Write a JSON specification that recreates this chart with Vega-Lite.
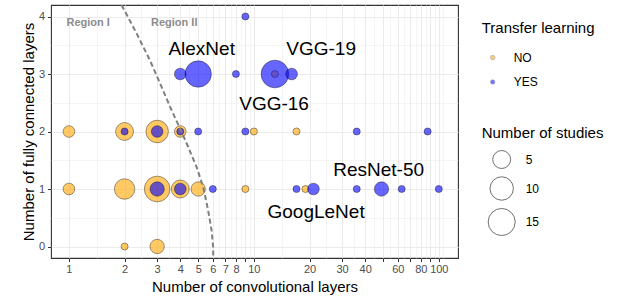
{
  "$schema": "https://vega.github.io/schema/vega-lite/v6.json",
  "width": 407,
  "height": 253,
  "autosize": {"type": "none"},
  "padding": {"left": 51, "top": 5, "right": 165, "bottom": 43},
  "background": "white",
  "config": {
    "font": "Liberation Sans",
    "view": {"stroke": "#333333", "strokeWidth": 1.1},
    "axis": {
      "labelFont": "Liberation Sans",
      "labelFontSize": 11,
      "labelColor": "#4D4D4D",
      "titleFont": "Liberation Sans",
      "titleFontSize": 15,
      "titleFontWeight": "normal",
      "titleColor": "#000000",
      "gridColor": "#EBEBEB",
      "tickColor": "#333333",
      "tickSize": 3.5,
      "domain": false
    },
    "legend": {
      "titleFont": "Liberation Sans",
      "labelFont": "Liberation Sans",
      "titleFontSize": 15,
      "titleFontWeight": "normal",
      "titleColor": "#000000",
      "labelFontSize": 12,
      "labelColor": "#000000"
    }
  },
  "datasets": {
    "points": [
      {"conv": 1, "fc": 1, "tl": "NO", "n": 2},
      {"conv": 2, "fc": 1, "tl": "NO", "n": 7},
      {"conv": 3, "fc": 1, "tl": "NO", "n": 13},
      {"conv": 4, "fc": 1, "tl": "NO", "n": 5},
      {"conv": 5, "fc": 1, "tl": "NO", "n": 3},
      {"conv": 9, "fc": 1, "tl": "NO", "n": 1},
      {"conv": 19, "fc": 1, "tl": "NO", "n": 1},
      {"conv": 1, "fc": 2, "tl": "NO", "n": 2},
      {"conv": 2, "fc": 2, "tl": "NO", "n": 5},
      {"conv": 3, "fc": 2, "tl": "NO", "n": 9},
      {"conv": 4, "fc": 2, "tl": "NO", "n": 2},
      {"conv": 10, "fc": 2, "tl": "NO", "n": 1},
      {"conv": 17, "fc": 2, "tl": "NO", "n": 1},
      {"conv": 13, "fc": 3, "tl": "NO", "n": 1},
      {"conv": 2, "fc": 0, "tl": "NO", "n": 1},
      {"conv": 3, "fc": 0, "tl": "NO", "n": 3},
      {"conv": 3, "fc": 1, "tl": "YES", "n": 3},
      {"conv": 4, "fc": 1, "tl": "YES", "n": 2},
      {"conv": 6, "fc": 1, "tl": "YES", "n": 1},
      {"conv": 17, "fc": 1, "tl": "YES", "n": 1},
      {"conv": 21, "fc": 1, "tl": "YES", "n": 2},
      {"conv": 36, "fc": 1, "tl": "YES", "n": 1},
      {"conv": 49, "fc": 1, "tl": "YES", "n": 3},
      {"conv": 63, "fc": 1, "tl": "YES", "n": 1},
      {"conv": 100, "fc": 1, "tl": "YES", "n": 1},
      {"conv": 2, "fc": 2, "tl": "YES", "n": 1},
      {"conv": 3, "fc": 2, "tl": "YES", "n": 2},
      {"conv": 4, "fc": 2, "tl": "YES", "n": 1},
      {"conv": 5, "fc": 2, "tl": "YES", "n": 1},
      {"conv": 9, "fc": 2, "tl": "YES", "n": 1},
      {"conv": 36, "fc": 2, "tl": "YES", "n": 1},
      {"conv": 87, "fc": 2, "tl": "YES", "n": 1},
      {"conv": 4, "fc": 3, "tl": "YES", "n": 2},
      {"conv": 5, "fc": 3, "tl": "YES", "n": 14},
      {"conv": 8, "fc": 3, "tl": "YES", "n": 1},
      {"conv": 13, "fc": 3, "tl": "YES", "n": 16},
      {"conv": 16, "fc": 3, "tl": "YES", "n": 2},
      {"conv": 9, "fc": 4, "tl": "YES", "n": 1}
    ],
    "curve": [
      {"conv": 1.927, "fc": 4.2},
      {"conv": 2.322, "fc": 3.706},
      {"conv": 2.741, "fc": 3.24},
      {"conv": 3.17, "fc": 2.775},
      {"conv": 3.591, "fc": 2.369},
      {"conv": 4.031, "fc": 2.021},
      {"conv": 4.415, "fc": 1.73},
      {"conv": 4.901, "fc": 1.382},
      {"conv": 5.321, "fc": 1.033},
      {"conv": 5.662, "fc": 0.627},
      {"conv": 5.907, "fc": 0.279},
      {"conv": 6.026, "fc": -0.012},
      {"conv": 6.03, "fc": -0.21}
    ],
    "names": [
      {"conv": 5.22, "fc": 3.327, "label": "AlexNet"},
      {"conv": 23.1, "fc": 3.327, "label": "VGG-19"},
      {"conv": 12.86, "fc": 2.369, "label": "VGG-16"},
      {"conv": 47.3, "fc": 1.225, "label": "ResNet-50"},
      {"conv": 21.7, "fc": 0.493, "label": "GoogLeNet"}
    ],
    "regions": [
      {"conv": 1.271, "fc": 3.833, "label": "Region I"},
      {"conv": 3.71, "fc": 3.833, "label": "Region II"}
    ]
  },
  "layer": [
    {
      "data": {"name": "points"},
      "mark": {"type": "circle", "fillOpacity": 0.6, "stroke": "#000000", "strokeOpacity": 0.55, "strokeWidth": 0.7, "opacity": 1},
      "encoding": {
        "x": {
          "field": "conv", "type": "quantitative",
          "scale": {"type": "log", "domain": [0.8, 127], "nice": false},
          "axis": {
            "title": "Number of convolutional layers",
            "values": [1, 2, 3, 4, 5, 6, 7, 8, 9, 10, 20, 30, 40, 50, 60, 70, 80, 90, 100],
            "format": "d",
            "labelExpr": "(datum.value == 9 || datum.value == 50 || datum.value == 70 || datum.value == 90) ? '' : datum.label",
            "labelOverlap": false,
            "labelFlush": false,
            "labelPadding": 2,
            "titlePadding": 5,
            "grid": true,
            "gridWidth": 1
          }
        },
        "y": {
          "field": "fc", "type": "quantitative",
          "scale": {"domain": [-0.2, 4.2], "nice": false, "zero": false},
          "axis": {
            "title": "Number of fully connected layers",
            "values": [0, 1, 2, 3, 4],
            "labelPadding": 3,
            "titlePadding": 2,
            "grid": true,
            "gridWidth": 1
          }
        },
        "fill": {
          "field": "tl", "type": "nominal",
          "scale": {"domain": ["NO", "YES"], "range": ["#FFA500", "#0000FF"]},
          "legend": {
            "title": "Transfer learning",
            "orient": "none",
            "legendX": 430.7,
            "legendY": 16,
            "symbolSize": 20,
            "symbolOpacity": 0.55,
            "symbolStrokeColor": "#555555",
            "symbolStrokeWidth": 0.6,
            "symbolOffset": 5,
            "labelOffset": 15,
            "rowPadding": 12.5,
            "titlePadding": 15.5
          }
        },
        "size": {
          "field": "n", "type": "quantitative",
          "scale": {"type": "pow", "exponent": 0.6, "domain": [1, 16], "range": [50, 765]},
          "legend": {
            "title": "Number of studies",
            "orient": "none",
            "legendX": 430.7,
            "legendY": 121,
            "values": [5, 10, 15],
            "symbolFillColor": "white",
            "symbolStrokeColor": "#333333",
            "symbolStrokeWidth": 0.7,
            "symbolOpacity": 1,
            "symbolOffset": 6,
            "labelOffset": 10,
            "rowPadding": 5,
            "titlePadding": 9
          }
        }
      }
    },
    {
      "data": {"name": "curve"},
      "mark": {"type": "line", "strokeDash": [5, 3], "strokeWidth": 2, "color": "#7F7F7F", "clip": true},
      "encoding": {
        "x": {
          "field": "conv", "type": "quantitative",
          "axis": {
            "values": [1.414, 2.449, 3.464, 4.472, 5.477, 6.481, 7.483, 8.485, 9.487, 14.14, 24.49, 34.64, 44.72, 54.77, 64.81, 74.83, 84.85, 94.87, 105.4],
            "labels": false, "ticks": false, "domain": false, "title": null,
            "grid": true, "gridWidth": 0.5
          }
        },
        "y": {
          "field": "fc", "type": "quantitative",
          "axis": {
            "values": [0.5, 1.5, 2.5, 3.5],
            "labels": false, "ticks": false, "domain": false, "title": null,
            "grid": true, "gridWidth": 0.5
          }
        }
      }
    },
    {
      "data": {"name": "names"},
      "mark": {"type": "text", "fontSize": 19, "font": "Liberation Sans", "color": "#000000", "align": "center", "baseline": "alphabetic"},
      "encoding": {
        "x": {"field": "conv", "type": "quantitative", "axis": null},
        "y": {"field": "fc", "type": "quantitative", "axis": null},
        "text": {"field": "label"}
      }
    },
    {
      "data": {"name": "regions"},
      "mark": {"type": "text", "fontSize": 11, "fontWeight": "bold", "font": "Liberation Sans", "color": "#8C8C8C", "align": "center", "baseline": "alphabetic"},
      "encoding": {
        "x": {"field": "conv", "type": "quantitative", "axis": null},
        "y": {"field": "fc", "type": "quantitative", "axis": null},
        "text": {"field": "label"}
      }
    }
  ],
  "resolve": {"axis": {"x": "independent", "y": "independent"}}
}
